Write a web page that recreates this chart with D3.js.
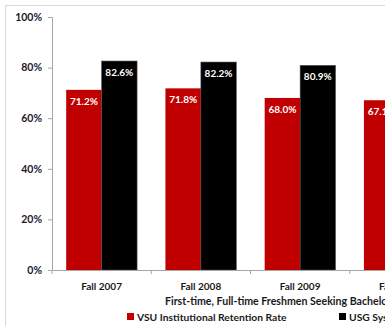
<!DOCTYPE html>
<html>
<head>
<meta charset="utf-8">
<script src="https://cdn.jsdelivr.net/npm/d3@7"></script>
<style>
  html, body { margin: 0; padding: 0; background: #fff; overflow: hidden; }
  svg { display: block; font-family: Lato, "Open Sans", sans-serif; font-weight: bold; }
</style>
</head>
<body>
<svg id="chart" width="385" height="326"></svg>
<script>
const categories = ["Fall 2007", "Fall 2008", "Fall 2009", "Fall 2010"];
const seriesNames = ["VSU Institutional Retention Rate", "USG System Retention Rate"];
const vsuValues = [71.2, 71.8, 68.0, 67.1];
const usgValues = [82.6, 82.2, 80.9, 80.0];
const yTicks = [0, 20, 40, 60, 80, 100];
const seriesColors = ["#c00000", "#000000"];
const axisTitle = "First-time, Full-time Freshmen Seeking Bachelor's Degree";

const svg = d3.select("#chart");

// outer chart border
svg.append("rect").attr("x", 5.5).attr("y", 5.5).attr("width", 500).attr("height", 400)
  .attr("fill", "none").attr("stroke", "#d9d9d9").attr("stroke-width", 1);

const y = d3.scaleLinear().domain([0, 100]).range([270, 17]);
const x0 = d3.scaleBand().domain(categories).range([52, 449]).paddingInner(0).paddingOuter(0);
const x1 = d3.scaleBand().domain(seriesNames).range([0, x0.bandwidth()]).paddingInner(0).paddingOuter(0.4);

const data = categories.map((c, i) => ({
  cat: c,
  vals: [{s: seriesNames[0], v: vsuValues[i], col: seriesColors[0]},
         {s: seriesNames[1], v: usgValues[i], col: seriesColors[1]}]
}));

// bars
const groups = svg.append("g").selectAll("g").data(data).join("g")
  .attr("transform", d => `translate(${x0(d.cat)},0)`);
groups.selectAll("rect").data(d => d.vals).join("rect")
  .attr("x", d => x1(d.s)).attr("width", x1.bandwidth())
  .attr("y", d => y(d.v)).attr("height", d => y(0) - y(d.v))
  .attr("fill", d => d.col)
  .attr("stroke", d => d.col === "#000000" ? "#555" : "none").attr("stroke-width", 0.6);
groups.selectAll("text").data(d => d.vals).join("text")
  .attr("x", d => x1(d.s) + x1.bandwidth() / 2)
  .attr("y", d => y(d.v) + 15)
  .attr("text-anchor", "middle").attr("fill", "#fff").attr("font-size", "10px")
  .text(d => d.v.toFixed(1) + "%");

// y axis
const yAxis = d3.axisLeft(y).tickValues(yTicks).tickSize(4).tickPadding(6).tickFormat(d => d + "%");
const gy = svg.append("g").attr("transform", "translate(52,0)").call(yAxis);
gy.select(".domain").attr("stroke", "#a6a6a6");
gy.selectAll(".tick line").attr("stroke", "#a6a6a6");
gy.selectAll(".tick text").attr("fill", "#1a1a2e").attr("font-size", "10.5px")
  .attr("font-family", "Lato, sans-serif").attr("font-weight", "bold");

// x axis
const xAxis = d3.axisBottom(x0).tickSize(0).tickPadding(13);
const gx = svg.append("g").attr("transform", "translate(0,270)").call(xAxis);
gx.select(".domain").attr("stroke", "#a6a6a6");
gx.selectAll(".tick text").attr("fill", "#1a1a1a").attr("font-size", "10px")
  .attr("font-family", "Lato, sans-serif").attr("font-weight", "bold");
// boundary ticks between categories
gx.selectAll(".bound").data(categories.concat([null])).join("line").attr("class", "bound")
  .attr("x1", (d, i) => 52 + i * x0.step()).attr("x2", (d, i) => 52 + i * x0.step())
  .attr("y1", 0).attr("y2", 4).attr("stroke", "#a6a6a6");

// axis title
svg.append("text").attr("x", 165).attr("y", 305).attr("fill", "#1a1a1a")
  .attr("font-size", "10.6px").text(axisTitle);

// legend
const legend = svg.append("g").selectAll("g").data(seriesNames).join("g")
  .attr("transform", (d, i) => `translate(${[127, 339][i]},313)`);
legend.append("rect").attr("width", 7).attr("height", 7).attr("fill", (d, i) => seriesColors[i]);
legend.append("text").attr("x", 10).attr("y", 7.5).attr("font-size", "10.3px").attr("fill", "#1a1a1a")
  .text(d => d);
</script>
</body>
</html>
